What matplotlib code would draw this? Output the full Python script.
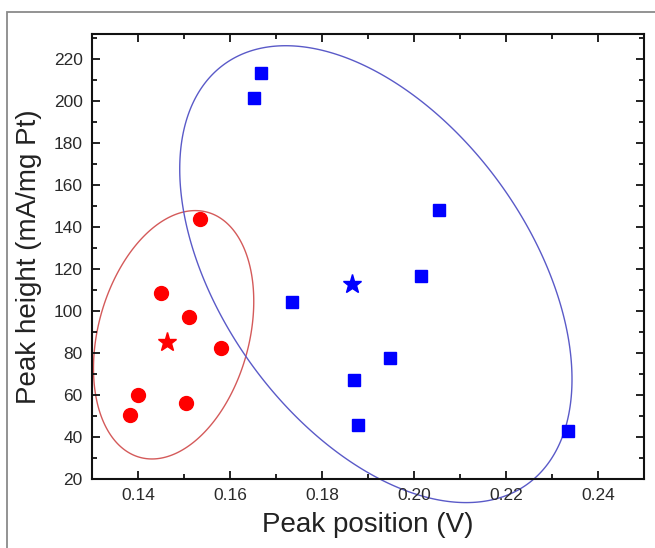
import numpy as np
import matplotlib
matplotlib.use("Agg")
import matplotlib.pyplot as plt
from matplotlib.patches import Rectangle, Polygon
from matplotlib.ticker import MultipleLocator

plt.rcParams['font.family'] = ['Liberation Sans', 'DejaVu Sans']

# red group (circles) and its mean (star)
red_x = [0.1535, 0.1450, 0.1510, 0.1580, 0.1399, 0.1381, 0.1503]
red_y = [143.7, 108.4, 97.3, 82.2, 59.9, 50.4, 56.2]
red_star = (0.1463, 85.0)

# blue group (squares) and its mean (star)
blue_x = [0.1668, 0.1651, 0.2055, 0.1734, 0.2015, 0.1947, 0.1870, 0.1877, 0.2335]
blue_y = [213.3, 201.5, 148.0, 104.1, 116.7, 77.6, 66.9, 45.5, 42.9]
blue_star = (0.1864, 112.8)

# ellipses: centre x, centre y, half width, half height, cos of skew
red_ell = (0.14769, 88.6, 0.01743, 59.2, 0.27)
blue_ell = (0.19168, 117.5, 0.04266, 108.9, -0.46)


def ellipse_xy(e, n=600):
    cx, cy, rx, ry, c = e
    phi = np.arccos(c)
    t = np.linspace(0, 2 * np.pi, n, endpoint=False)
    return np.column_stack([cx + rx * np.cos(t), cy + ry * np.cos(t - phi)])


fig = plt.figure(figsize=(6.55, 5.48), dpi=100)
fig.patches.append(Rectangle((7.3 / 655, -0.05), 1.1, 1 - 11.7 / 548 + 0.05,
                             transform=fig.transFigure, fill=False,
                             edgecolor='#8a8a8a', lw=1.3))

ax = fig.add_axes([0.1409, 0.1265, 0.9832 - 0.1409, 0.938 - 0.1265])

ax.add_patch(Polygon(ellipse_xy(red_ell), closed=True, fill=False,
                     edgecolor='#d45a5a', lw=1.0, clip_on=False))
ax.add_patch(Polygon(ellipse_xy(blue_ell), closed=True, fill=False,
                     edgecolor='#5a5ac8', lw=1.0, clip_on=False))

ax.plot(red_x, red_y, 'o', color='#ff0000', ms=10, mec='#ff0000', ls='none')
ax.plot(*red_star, '*', color='#ff0000', ms=14, ls='none')
ax.plot(blue_x, blue_y, 's', color='#0000ff', ms=8.4, mec='#0000ff', ls='none')
ax.plot(*blue_star, '*', color='#0000ff', ms=14, ls='none')

ax.set_xlim(0.13, 0.25)
ax.set_ylim(20, 232)
ax.xaxis.set_major_locator(MultipleLocator(0.02))
ax.xaxis.set_minor_locator(MultipleLocator(0.01))
ax.yaxis.set_major_locator(MultipleLocator(20))
ax.yaxis.set_minor_locator(MultipleLocator(10))
ax.xaxis.set_major_formatter(lambda v, p: f"{v:.2f}")

ax.tick_params(which='both', direction='in', top=True, right=True,
               width=1.3, colors='#111111', labelcolor='#2a2a2a')
ax.tick_params(which='major', length=6, labelsize=12.5, pad=7)
ax.tick_params(which='minor', length=3.5)
for s in ax.spines.values():
    s.set_linewidth(1.5)
    s.set_color('#111111')

ax.set_xlabel('Peak position (V)', fontsize=20, color='#222222', labelpad=6)
ax.set_ylabel('Peak height (mA/mg Pt)', fontsize=20, color='#222222', labelpad=8)

fig.savefig('out.png', dpi=100)
